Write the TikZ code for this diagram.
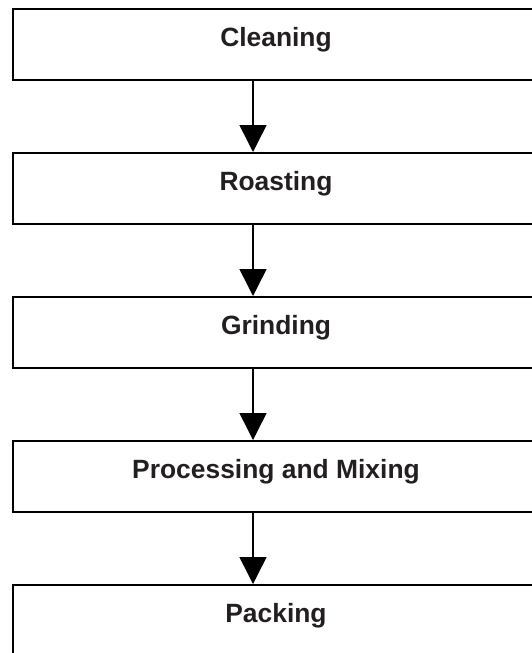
\documentclass[tikz,border=0pt]{standalone}
\usepackage{fontspec}
\setmainfont{Liberation Sans}
\usetikzlibrary{arrows.meta}
\definecolor{ink}{RGB}{35,31,32}
\tikzstyle{stage}=[draw, rectangle, line width=2pt, minimum width=526pt, minimum height=71pt, inner ysep=4pt, text height=33pt, text depth=30pt, font=\fontsize{26.4}{30}\selectfont\bfseries, text=ink]
\tikzset{flow/.style={-{Triangle[width=27pt,length=27pt]}, line width=1.5pt}}

\begin{document}
\begin{tikzpicture}[x=1pt,y=1pt]
  \useasboundingbox (0,0) rectangle (531,-653);
  \draw (276,-44.5) node[stage] (cleaning) {Cleaning};
  \draw (276,-188.5) node[stage] (roasting) {Roasting};
  \draw (276,-332.5) node[stage] (grinding) {Grinding};
  \draw (276,-476.5) node[stage] (mixing) {Processing and Mixing};
  \draw (276,-620.5) node[stage] (packing) {Packing};

  %% Flow between stages
  \coordinate (axis) at (253,0);
  \draw[flow] (cleaning.south -| axis) -- (roasting.north -| axis);
  \draw[flow] (roasting.south -| axis) -- (grinding.north -| axis);
  \draw[flow] (grinding.south -| axis) -- (mixing.north -| axis);
  \draw[flow] (mixing.south -| axis) -- (packing.north -| axis);
\end{tikzpicture}
\end{document}
